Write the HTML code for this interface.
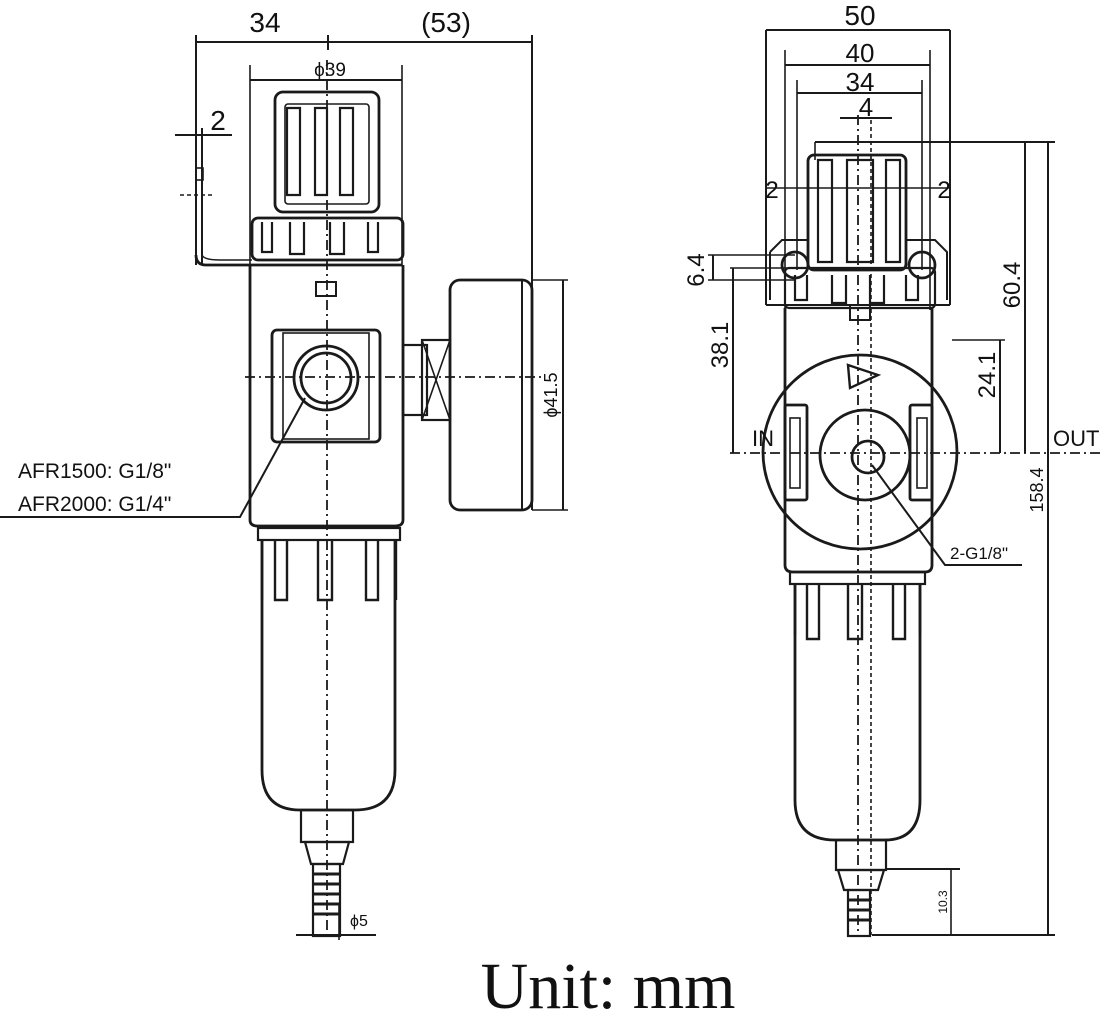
<!DOCTYPE html>
<html><head><meta charset="utf-8"><style>
html,body{margin:0;padding:0;background:#fff}
svg{display:block}
text{font-family:"Liberation Sans",sans-serif;fill:#111}
</style></head><body>
<svg width="1105" height="1014" viewBox="0 0 1105 1014" xmlns="http://www.w3.org/2000/svg">
<g fill="none" stroke="#1a1a1a" stroke-width="2.8">
<!-- LEFT VIEW -->
<line x1="196" y1="42" x2="532" y2="42" stroke-width="2"/>
<line x1="196" y1="35" x2="196" y2="265" stroke-width="2"/>
<line x1="532" y1="35" x2="532" y2="510" stroke-width="2"/>
<line x1="328" y1="35" x2="328" y2="50" stroke-width="2"/>
<line x1="250" y1="65" x2="250" y2="265" stroke-width="1.6"/>
<line x1="402" y1="65" x2="402" y2="265" stroke-width="1.6"/>
<line x1="250" y1="80" x2="402" y2="80" stroke-width="2"/>
<line x1="175" y1="135" x2="232" y2="135" stroke-width="2"/>
<line x1="202" y1="128" x2="202" y2="265" stroke-width="2"/>
<line x1="180" y1="195" x2="215" y2="195" stroke-width="1.6" stroke-dasharray="4 3"/>
<rect x="196" y="168" width="7" height="12" stroke-width="1.6"/>
<path d="M196 255 Q196 265 206 265 L402 265" />
<path d="M202 255 Q204 260 220 260 L252 260" stroke-width="1.6"/>
<rect x="275" y="92" width="104" height="120" rx="8"/>
<rect x="285" y="104" width="84" height="100" rx="3" stroke-width="1.6"/>
<path d="M287 195 V108 H300 V195 Z M315 195 V108 H327 V195 Z M340 195 V108 H353 V195 Z" stroke-width="2.2"/>
<rect x="252" y="218" width="151" height="42" rx="6"/>
<path d="M262 222 v30 h10 v-30 M290 222 v32 h14 v-32 M330 222 v32 h14 v-32 M368 222 v30 h10 v-30" stroke-width="2.2"/>
<rect x="316" y="282" width="20" height="14" stroke-width="2"/>
<path d="M250 265 V520 Q250 526 258 526 H395 Q403 526 403 520 V265"/>
<rect x="272" y="330" width="108" height="112" rx="5"/>
<rect x="283" y="333" width="86" height="106" stroke-width="1.6"/>
<circle cx="326" cy="378" r="32"/>
<circle cx="326" cy="378" r="25"/>
<rect x="403" y="345" width="24" height="70" stroke-width="2.2"/>
<rect x="422" y="340" width="28" height="80" stroke-width="2.2"/>
<line x1="422" y1="340" x2="450" y2="420" stroke-width="1.6"/>
<line x1="450" y1="340" x2="422" y2="420" stroke-width="1.6"/>
<rect x="450" y="280" width="82" height="230" rx="10"/>
<line x1="522" y1="280" x2="522" y2="510" stroke-width="2"/>
<line x1="532" y1="280" x2="568" y2="280" stroke-width="1.6"/>
<line x1="532" y1="510" x2="568" y2="510" stroke-width="1.6"/>
<line x1="563" y1="280" x2="563" y2="510" stroke-width="2"/>
<line x1="327" y1="60" x2="327" y2="930" stroke-width="1.8" stroke-dasharray="10 4 2 4"/>
<line x1="245" y1="377" x2="545" y2="377" stroke-width="1.8" stroke-dasharray="10 4 2 4"/>
<path d="M305 398 L240 517 H0" stroke-width="2"/>
<rect x="258" y="528" width="142" height="12" stroke-width="2.2"/>
<path d="M262 540 V600 M275 540 v60 h12 v-60 M318 540 v60 h14 v-60 M366 540 v60 h12 v-60 M396 540 V600" stroke-width="2.4"/>
<path d="M262 540 V770 Q262 810 300 810 H355 Q395 810 395 770 V540"/>
<rect x="301" y="810" width="52" height="32" stroke-width="2.2"/>
<path d="M305 842 h44 l-6 22 h-32 z" stroke-width="2.2"/>
<rect x="313" y="864" width="27" height="72" stroke-width="2.2"/>
<path d="M313 874 h27 M313 884 h27 M313 894 h27 M313 904 h27 M313 914 h27" stroke-width="3"/>
<line x1="296" y1="935" x2="376" y2="935" stroke-width="2"/>
<line x1="339" y1="905" x2="339" y2="940" stroke-width="1.6"/>

<!-- RIGHT VIEW -->
<line x1="766" y1="30" x2="950" y2="30" stroke-width="2"/>
<line x1="766" y1="30" x2="766" y2="305" stroke-width="2"/>
<line x1="950" y1="30" x2="950" y2="305" stroke-width="2"/>
<line x1="766" y1="305" x2="950" y2="305" stroke-width="2"/>
<line x1="785" y1="65" x2="930" y2="65" stroke-width="2"/>
<line x1="785" y1="50" x2="785" y2="310" stroke-width="1.6"/>
<line x1="930" y1="50" x2="930" y2="310" stroke-width="1.6"/>
<line x1="797" y1="93" x2="922" y2="93" stroke-width="2"/>
<line x1="797" y1="80" x2="797" y2="270" stroke-width="1.6"/>
<line x1="922" y1="80" x2="922" y2="270" stroke-width="1.6"/>
<line x1="840" y1="118" x2="892" y2="118" stroke-width="2"/>
<line x1="858" y1="115" x2="858" y2="935" stroke-width="1.8" stroke-dasharray="10 4 2 4"/>
<line x1="871" y1="120" x2="871" y2="935" stroke-width="1.6" stroke-dasharray="4 3"/>
<line x1="815" y1="142" x2="1055" y2="142" stroke-width="2"/>
<line x1="815" y1="142" x2="815" y2="160" stroke-width="1.6"/>
<rect x="808" y="155" width="98" height="115" rx="6"/>
<path d="M818 262 V160 H832 V262 Z M847 262 V160 H873 V262 Z M886 262 V160 H900 V262 Z" stroke-width="2.2"/>
<line x1="766" y1="188" x2="950" y2="188" stroke-width="1.6"/>
<path d="M770 252 L782 240 H808 M906 240 H935 L947 252 V300 M770 252 V300" stroke-width="2"/>
<circle cx="795" cy="265" r="13"/>
<circle cx="922" cy="265" r="13"/>
<rect x="785" y="268" width="150" height="40" rx="4" stroke-width="2.2"/>
<path d="M795 275 v25 h12 v-25 M832 275 v28 h14 v-28 M870 275 v28 h14 v-28 M906 275 v25 h12 v-25" stroke-width="2.2"/>
<line x1="708" y1="255" x2="795" y2="255" stroke-width="1.6"/>
<line x1="708" y1="280" x2="795" y2="280" stroke-width="1.6"/>
<line x1="713" y1="255" x2="713" y2="280" stroke-width="2"/>
<line x1="730" y1="268" x2="800" y2="268" stroke-width="1.6"/>
<line x1="733" y1="268" x2="733" y2="453" stroke-width="2"/>
<rect x="850" y="305" width="20" height="15" stroke-width="2"/>
<path d="M785 308 V565 Q785 572 793 572 H925 Q932 572 932 565 V308"/>
<circle cx="860" cy="452" r="97"/>
<circle cx="865" cy="455" r="45"/>
<circle cx="868" cy="457" r="16"/>
<path d="M848 365 L878 375 L850 388 Z" stroke-width="2.4"/>
<rect x="785" y="405" width="22" height="95" rx="2"/>
<rect x="790" y="418" width="10" height="70" stroke-width="1.6"/>
<rect x="910" y="405" width="22" height="95" rx="2"/>
<rect x="917" y="418" width="10" height="70" stroke-width="1.6"/>
<line x1="730" y1="453" x2="1100" y2="453" stroke-width="1.8" stroke-dasharray="10 4 2 4"/>
<path d="M872 465 L945 565 H1022" stroke-width="2"/>
<line x1="952" y1="340" x2="1005" y2="340" stroke-width="1.6"/>
<line x1="1000" y1="340" x2="1000" y2="453" stroke-width="2"/>
<line x1="1025" y1="142" x2="1025" y2="453" stroke-width="2"/>
<line x1="1048" y1="142" x2="1048" y2="935" stroke-width="2"/>
<rect x="790" y="572" width="135" height="12" stroke-width="2.2"/>
<path d="M795 584 V635 M807 584 v55 h12 v-55 M848 584 v55 h14 v-55 M893 584 v55 h12 v-55 M920 584 V635" stroke-width="2.4"/>
<path d="M795 584 V800 Q795 840 835 840 H885 Q920 840 920 800 V584"/>
<rect x="836" y="840" width="50" height="30" stroke-width="2.2"/>
<path d="M838 870 h46 l-6 20 h-34 z" stroke-width="2.2"/>
<rect x="848" y="890" width="22" height="46" stroke-width="2.2"/>
<path d="M848 900 h22 M848 910 h22 M848 920 h22" stroke-width="3"/>
<line x1="885" y1="869" x2="960" y2="869" stroke-width="2"/>
<line x1="872" y1="935" x2="1055" y2="935" stroke-width="2"/>
<line x1="951" y1="869" x2="951" y2="935" stroke-width="1.6"/>
</g>
<text x="265" y="32" font-size="28" text-anchor="middle">34</text>
<text x="446" y="32" font-size="28" text-anchor="middle">(53)</text>
<text x="330" y="76" font-size="19" text-anchor="middle">ϕ39</text>
<text x="218" y="130" font-size="28" text-anchor="middle">2</text>
<text x="18" y="478" font-size="21">AFR1500: G1/8"</text>
<text x="18" y="511" font-size="21">AFR2000: G1/4"</text>
<text transform="translate(557,395) rotate(-90)" font-size="18" text-anchor="middle">ϕ41.5</text>
<text x="350" y="926" font-size="16">ϕ5</text>
<text x="860" y="25" font-size="28" text-anchor="middle">50</text>
<text x="860" y="62" font-size="26" text-anchor="middle">40</text>
<text x="860" y="91" font-size="26" text-anchor="middle">34</text>
<text x="866" y="116" font-size="26" text-anchor="middle">4</text>
<text x="772" y="198" font-size="24" text-anchor="middle">2</text>
<text x="944" y="198" font-size="24" text-anchor="middle">2</text>
<text transform="translate(704,270) rotate(-90)" font-size="24" text-anchor="middle">6.4</text>
<text transform="translate(728,345) rotate(-90)" font-size="24" text-anchor="middle">38.1</text>
<text transform="translate(995,375) rotate(-90)" font-size="24" text-anchor="middle">24.1</text>
<text transform="translate(1020,285) rotate(-90)" font-size="24" text-anchor="middle">60.4</text>
<text transform="translate(1043,490) rotate(-90)" font-size="18" text-anchor="middle">158.4</text>
<text transform="translate(947,902) rotate(-90)" font-size="12" text-anchor="middle">10.3</text>
<text x="752" y="446" font-size="22">IN</text>
<text x="1053" y="446" font-size="22">OUT</text>
<text x="950" y="559" font-size="17">2-G1/8"</text>
<text x="608" y="1008" font-size="66" text-anchor="middle" style="font-family:'Liberation Serif',serif">Unit: mm</text>
</svg>
</body></html>
